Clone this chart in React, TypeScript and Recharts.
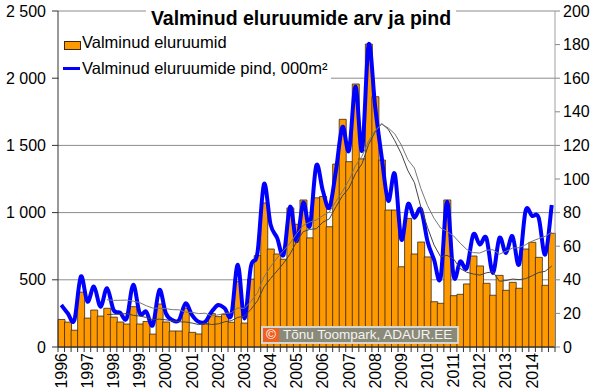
import React from 'react';
import { ComposedChart, Bar, Line, XAxis, YAxis, CartesianGrid } from 'recharts';

// Years on the category axis (each split into four quarters)
const years = ['1996','1997','1998','1999','2000','2001','2002','2003','2004','2005','2006','2007','2008','2009','2010','2011','2012','2013','2014'];
const quarters = ['I', 'II', 'III', 'IV'];

// Completed dwellings (left axis), quarterly
const dwellings = [
  205, 185, 125, 408,
  215, 275, 230, 288,
  222, 186, 171, 300,
  171, 190, 96, 320,
  186, 119, 119, 288,
  109, 97, 171, 248,
  226, 243, 184, 486,
  178, 505, 680, 1072,
  729, 692, 653, 1035,
  913, 1094, 812, 1110,
  1120, 895, 1361, 1694,
  1379, 1957, 1400, 2254,
  1862, 1391, 1019, 1019,
  597, 957, 692, 781,
  670, 337, 325, 1094,
  382, 392, 469, 677,
  603, 474, 385, 533,
  422, 481, 437, 729,
  779, 667, 459, 846,
];

// Floor area of completed dwellings, 000 m² (right axis), quarterly
const floorArea = [
  25, 20, 16, 42,
  27, 36, 24, 35,
  22, 20.5, 17, 37,
  20, 21, 13, 34,
  20, 16, 16, 26,
  19, 15, 15, 21,
  25, 23, 19, 49,
  17, 48, 56, 97,
  73, 65, 55, 83.5,
  63, 86, 72, 108,
  93, 83, 105, 131,
  117, 155, 117, 180,
  143, 113, 87, 103,
  64, 85, 77, 82,
  63, 52, 41, 86.5,
  42, 51, 47, 67,
  61, 65, 44, 65,
  56, 66, 49, 81,
  78, 77, 55, 84.5,
];

const leftTicks = [0, 500, 1000, 1500, 2000, 2500];
const rightTicks = [0, 20, 40, 60, 80, 100, 120, 140, 160, 180, 200];
const TREND_PERIOD = 8; // moving-average trendline period

const movingAverage = (arr: number[], n: number) =>
  arr.map((_, i) => (i < n - 1 ? null : arr.slice(i - n + 1, i + 1).reduce((a, b) => a + b, 0) / n));

const unitsMA = movingAverage(dwellings, TREND_PERIOD);
const areaMA = movingAverage(floorArea, TREND_PERIOD);

const data = years.flatMap((y, yi) =>
  quarters.map((q, qi) => {
    const i = yi * 4 + qi;
    return { label: `${y} ${q}`, year: y, qi, units: dwellings[i], area: floorArea[i], unitsMA: unitsMA[i], areaMA: areaMA[i] };
  })
);

const W = 600;
const H = 392;
const LEFT_W = 58;
const RIGHT_W = 45;
const FONT = '"Liberation Sans", Arial, sans-serif';
const HALF_BAND = (W - LEFT_W - RIGHT_W) / data.length / 2;

// Excel-like smoothed line (Catmull-Rom through the points)
const catmullRom = (context: any) => {
  let pts: [number, number][] = [];
  return {
    areaStart() {},
    areaEnd() {},
    lineStart() { pts = []; },
    lineEnd() {
      const n = pts.length;
      if (!n) return;
      context.moveTo(pts[0][0], pts[0][1]);
      for (let i = 0; i < n - 1; i++) {
        const p0 = pts[Math.max(i - 1, 0)];
        const p1 = pts[i];
        const p2 = pts[i + 1];
        const p3 = pts[Math.min(i + 2, n - 1)];
        context.bezierCurveTo(
          p1[0] + (p2[0] - p0[0]) / 6, p1[1] + (p2[1] - p0[1]) / 6,
          p2[0] - (p3[0] - p1[0]) / 6, p2[1] - (p3[1] - p1[1]) / 6,
          p2[0], p2[1]
        );
      }
    },
    point(x: number, y: number) { pts.push([+x, +y]); },
  };
};

const QuarterTick = (props: any) => {
  const { x, y, index } = props;
  const d = data[index];
  if (!d) return null;
  return (
    <g>
      <line x1={x - HALF_BAND} y1={y} x2={x - HALF_BAND} y2={y + 5} stroke="#333" />
      {index === data.length - 1 && <line x1={x + HALF_BAND} y1={y} x2={x + HALF_BAND} y2={y + 5} stroke="#333" />}
      {d.qi === 0 && (
        <text
          x={x}
          y={y + 6}
          transform={`rotate(-90 ${x} ${y + 6})`}
          textAnchor="end"
          dominantBaseline="central"
          fontSize={16}
          fontFamily={FONT}
          fill="#000"
        >
          {d.year}
        </text>
      )}
    </g>
  );
};

const fmtThousands = (v: number) => String(v).replace(/\B(?=(\d{3})+(?!\d))/g, ' ');

export default function App() {
  return (
    <div style={{ position: 'absolute', left: 0, top: 0, width: W, height: H, background: '#fff', fontFamily: FONT }}>
      <ComposedChart
        width={W}
        height={H}
        data={data}
        margin={{ top: 11, right: 0, bottom: 0, left: 0 }}
        barCategoryGap={0}
        barGap={0}
      >
        <CartesianGrid yAxisId="left" vertical={false} stroke="#8c8c8c" />
        <XAxis
          dataKey="label"
          interval={0}
          height={45}
          tickSize={0}
          tickMargin={0}
          tickLine={false}
          axisLine={{ stroke: '#333' }}
          tick={<QuarterTick />}
        />
        <YAxis
          yAxisId="left"
          orientation="left"
          width={LEFT_W}
          domain={[0, 2500]}
          ticks={leftTicks}
          interval={0}
          tickFormatter={fmtThousands}
          axisLine={{ stroke: '#333' }}
          tickLine={{ stroke: '#333' }}
          tickSize={6}
          tickMargin={6}
          tick={{ fill: '#000', fontSize: 16, fontFamily: FONT }}
        />
        <YAxis
          yAxisId="right"
          orientation="right"
          width={RIGHT_W}
          domain={[0, 200]}
          ticks={rightTicks}
          interval={0}
          axisLine={{ stroke: '#a0a0a0' }}
          tickLine={{ stroke: '#888' }}
          tickSize={5}
          tickMargin={3}
          tick={{ fill: '#000', fontSize: 16, fontFamily: FONT }}
        />
        <Bar yAxisId="left" dataKey="units" fill="#FF9900" stroke="#3a2a10" strokeWidth={0.8} isAnimationActive={false} />
        <Line yAxisId="right" dataKey="area" stroke="#0000FF" strokeWidth={4} dot={false} activeDot={false} type={catmullRom as any} isAnimationActive={false} />
        <Line yAxisId="left" dataKey="unitsMA" stroke="#444" strokeWidth={1} dot={false} activeDot={false} type="linear" isAnimationActive={false} />
        <Line yAxisId="right" dataKey="areaMA" stroke="#777" strokeWidth={1} dot={false} activeDot={false} type="linear" isAnimationActive={false} />
      </ComposedChart>

      {/* Title */}
      <div
        style={{
          position: 'absolute', left: 146, top: 7, width: 310, height: 22, lineHeight: '22px',
          background: '#fff', textAlign: 'center', fontWeight: 'bold', fontSize: 19.5, color: '#000', whiteSpace: 'nowrap',
        }}
      >
        Valminud eluruumide arv ja pind
      </div>

      {/* Legend */}
      <div style={{ position: 'absolute', left: 59, top: 31, width: 272, height: 50, background: '#fff', fontSize: 16.5, color: '#000' }}>
        <div style={{ position: 'absolute', left: 5, top: 10, width: 15, height: 7, background: '#FF9900', border: '1px solid #3a2a10' }} />
        <div style={{ position: 'absolute', left: 23, top: 2, lineHeight: '19px', whiteSpace: 'nowrap' }}>Valminud eluruumid</div>
        <div style={{ position: 'absolute', left: 4, top: 36, width: 17, height: 3, background: '#0000FF' }} />
        <div style={{ position: 'absolute', left: 23, top: 28, lineHeight: '19px', whiteSpace: 'nowrap' }}>Valminud eluruumide pind, 000m²</div>
      </div>

      {/* Copyright */}
      <div
        style={{
          position: 'absolute', left: 261, top: 326, width: 194, height: 14, background: '#8a8a7a',
          border: '2px solid #d6d6ce', fontSize: 13.5, lineHeight: '14px', color: '#f4f4f0', whiteSpace: 'nowrap',
        }}
      >
        <span style={{ display: 'inline-block', width: 16, height: 14, background: '#f06020', color: '#fff', textAlign: 'center', marginRight: 4 }}>©</span>
        Tõnu Toompark, ADAUR.EE
      </div>
    </div>
  );
}
